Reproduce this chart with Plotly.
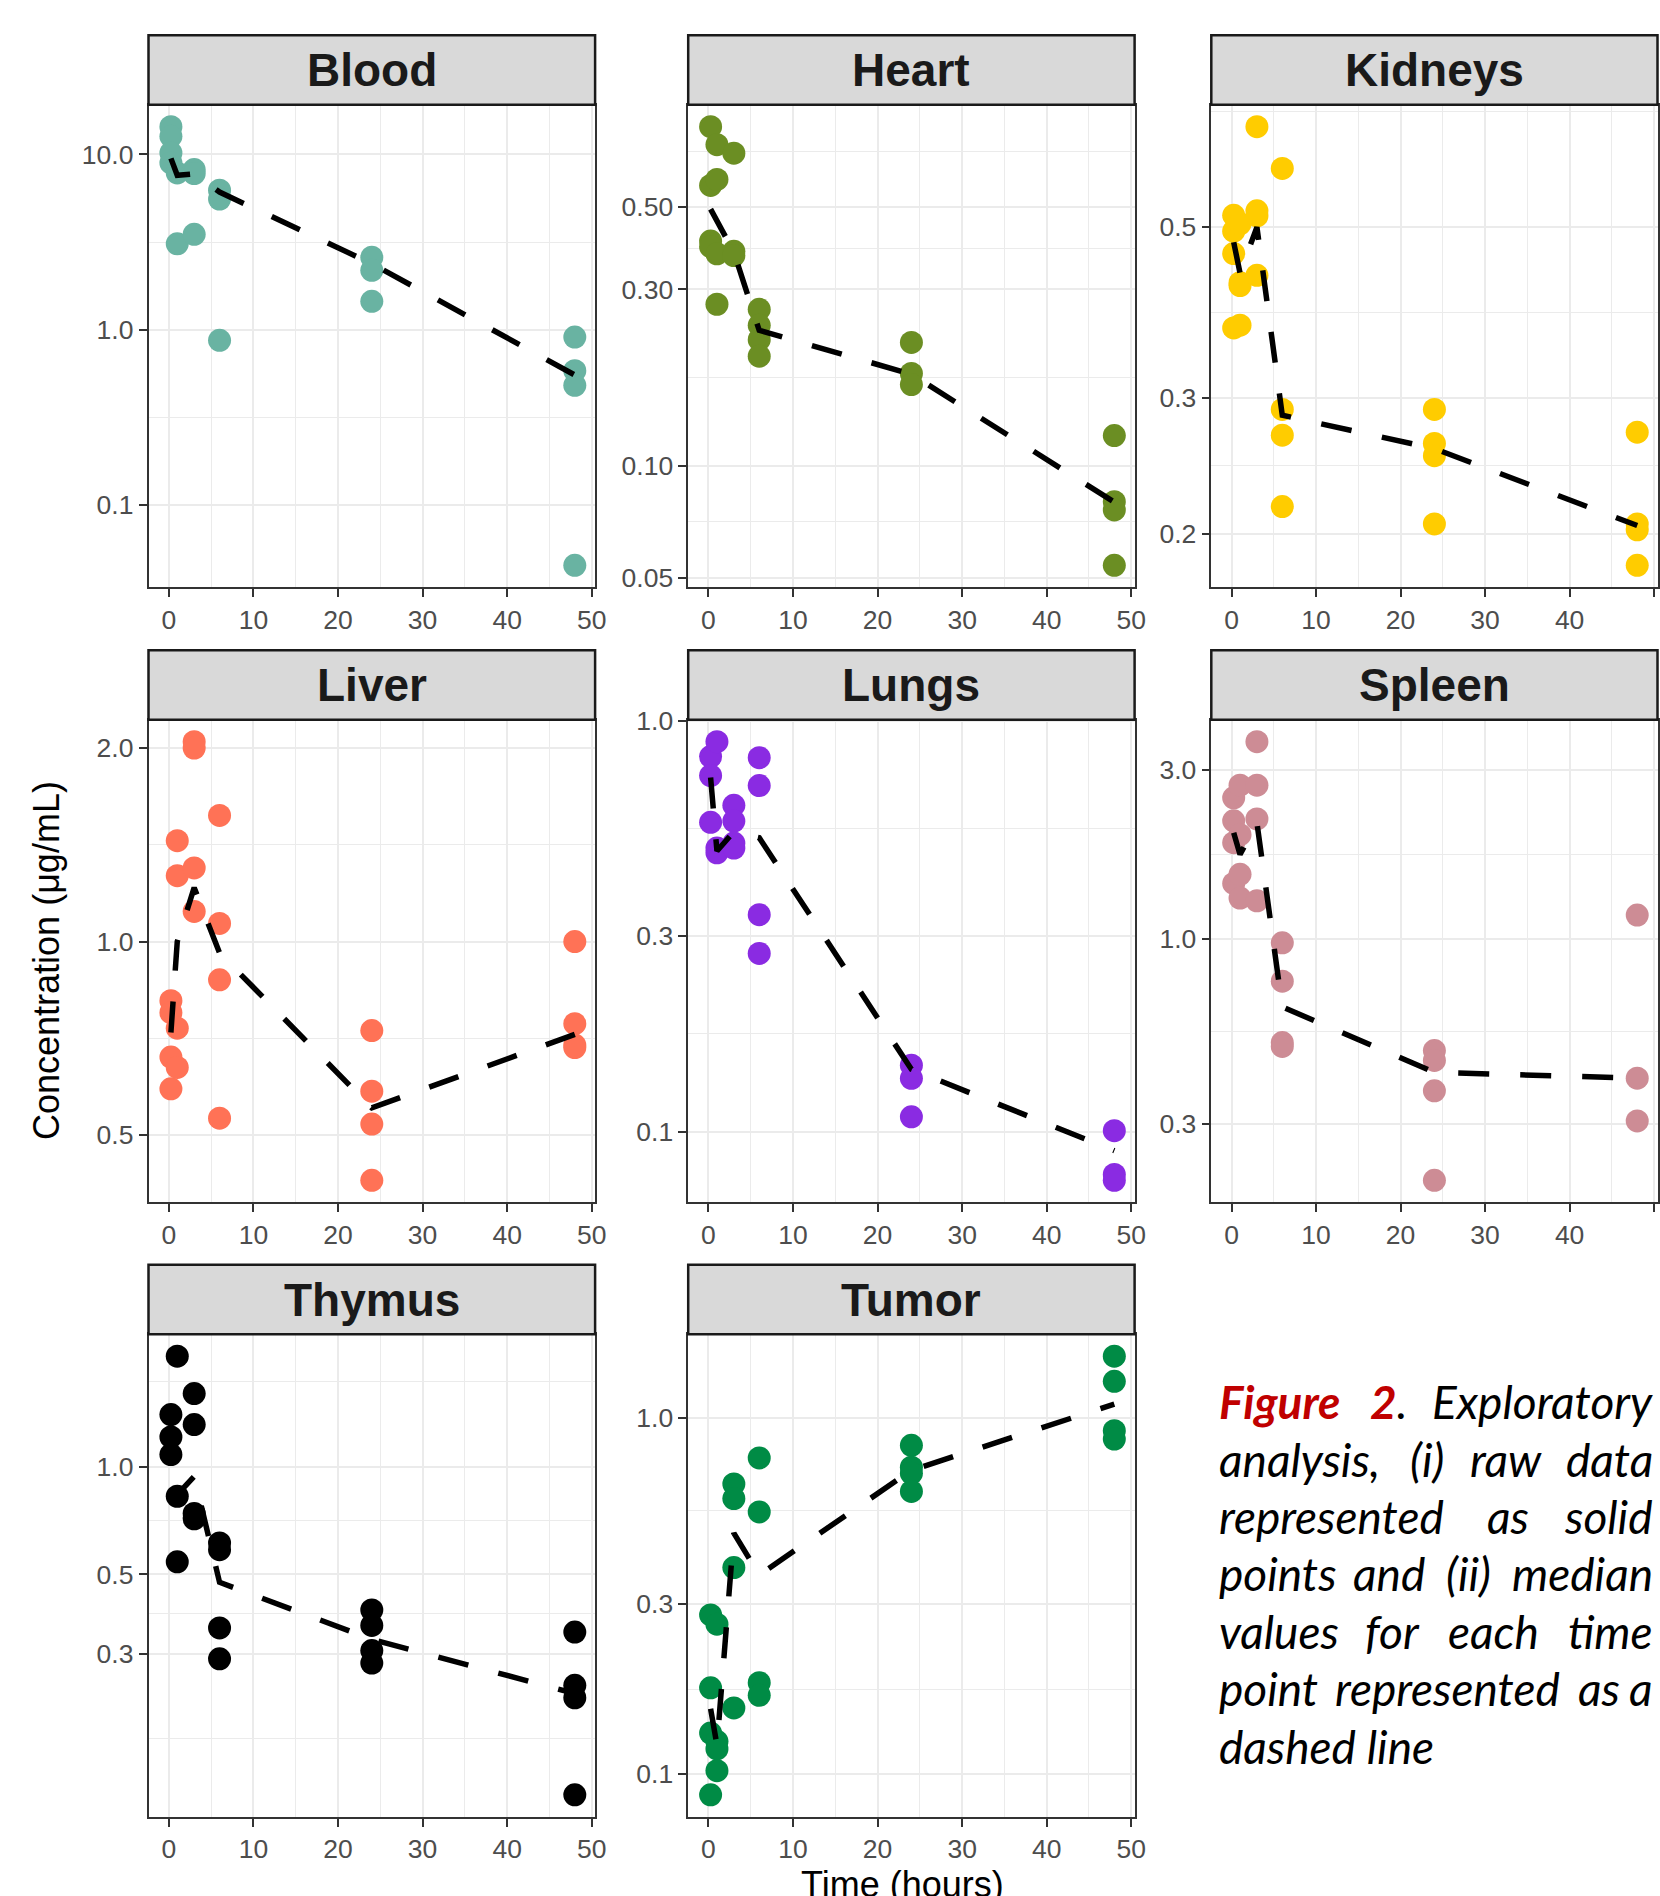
import numpy as np
import plotly.graph_objects as go

W, H = 1660, 1896

times = [0.25, 1, 3, 6, 24, 48]
x_ticks = [0, 10, 20, 30, 40, 50]
x_minor = [5, 15, 25, 35, 45]

organs = ["Blood", "Heart", "Kidneys", "Liver", "Lungs", "Spleen", "Thymus", "Tumor"]
colors = ["#69B3A2", "#6B8E23", "#FFCC00", "#FF7256", "#8A2BE2", "#CD8C95", "#000000", "#008B45"]

# concentrations (ug/mL) per time point
blood_conc = [[14.4, 12.7, 10.2, 8.94], [7.84, 3.09], [8.2, 7.78, 3.5],
              [6.25, 5.56, 0.868], [2.59, 2.18, 1.45], [0.906, 0.582, 0.48, 0.045]]
heart_conc = [[0.824, 0.572, 0.405, 0.391], [0.737, 0.594, 0.374, 0.2735], [0.699, 0.38, 0.37],
              [0.265, 0.24, 0.2195, 0.198], [0.2157, 0.178, 0.166], [0.121, 0.0802, 0.0762, 0.054]]
kidneys_conc = [[0.518, 0.494, 0.462, 0.370], [0.505, 0.4236, 0.42, 0.373], [0.675, 0.525, 0.517, 0.433],
                [0.596, 0.29, 0.2685, 0.217], [0.29, 0.262, 0.2526, 0.206], [0.271, 0.206, 0.2024, 0.182]]
liver_conc = [[0.809, 0.775, 0.661, 0.590], [1.435, 1.266, 0.733, 0.637], [2.046, 2.0, 1.302, 1.114],
              [1.571, 1.067, 0.872, 0.531], [0.727, 0.585, 0.52, 0.425], [1.0, 0.745, 0.69, 0.684]]
lungs_conc = [[0.82, 0.737, 0.567], [0.891, 0.491, 0.478], [0.624, 0.571, 0.505, 0.491],
              [0.815, 0.697, 0.338, 0.272], [0.1453, 0.135, 0.1088], [0.1007, 0.0788, 0.0762]]
spleen_conc = [[2.505, 2.157, 1.871, 1.435], [2.72, 1.97, 1.522, 1.304], [3.61, 2.72, 2.184, 1.281],
               [0.9745, 0.759, 0.509, 0.496], [0.483, 0.453, 0.3715, 0.2074], [1.167, 0.4035, 0.3054]]
thymus_conc = [[1.40, 1.212, 1.082], [2.039, 0.827, 0.542], [1.603, 1.313, 0.74, 0.715],
               [0.612, 0.586, 0.354, 0.29], [0.3976, 0.3598, 0.306, 0.2823], [0.3446, 0.2446, 0.2257, 0.1207]]
tumor_conc = [[0.2796, 0.1746, 0.1303, 0.0874], [0.2634, 0.1235, 0.1176, 0.1022], [0.652, 0.593, 0.3796, 0.1533],
              [0.7713, 0.544, 0.1804, 0.1663], [0.8364, 0.7267, 0.698, 0.621], [1.488, 1.265, 0.9196, 0.871]]

# median per time point (dashed line)
blood_median = [9.5, 7.6, 7.75, 6.1, 2.38, 0.55]
heart_median = [0.494, 0.4575, 0.378, 0.2326, 0.177, 0.080]
kidneys_median = [0.478, 0.436, 0.50, 0.285, 0.258, 0.205]
liver_median = [0.722, 1.0, 1.213, 0.96, 0.551, 0.717]
lungs_median = [0.729, 0.483, 0.538, 0.52, 0.142, 0.090]
spleen_median = [1.996, 1.732, 2.13, 0.642, 0.419, 0.4035]
thymus_median = [1.30, 0.836, 0.94, 0.475, 0.329, 0.232]
tumor_median = [0.1525, 0.1206, 0.4745, 0.362, 0.712, 1.092]

# y axis breaks
blood_ticks = [0.1, 1.0, 10.0]; blood_labels = ["0.1", "1.0", "10.0"]; blood_ext = [0.01, 0.1, 1, 10, 100]
heart_ticks = [0.05, 0.1, 0.3, 0.5]; heart_labels = ["0.05", "0.10", "0.30", "0.50"]; heart_ext = [0.03, 0.05, 0.1, 0.3, 0.5, 1]
kidneys_ticks = [0.2, 0.3, 0.5]; kidneys_labels = ["0.2", "0.3", "0.5"]; kidneys_ext = [0.1, 0.2, 0.3, 0.5, 1]
liver_ticks = [0.5, 1.0, 2.0]; liver_labels = ["0.5", "1.0", "2.0"]; liver_ext = [0.3, 0.5, 1, 2, 3]
lungs_ticks = [0.1, 0.3, 1.0]; lungs_labels = ["0.1", "0.3", "1.0"]; lungs_ext = [0.03, 0.1, 0.3, 1, 3]
spleen_ticks = [0.3, 1.0, 3.0]; spleen_labels = ["0.3", "1.0", "3.0"]; spleen_ext = [0.1, 0.3, 1, 3, 10]
thymus_ticks = [0.3, 0.5, 1.0]; thymus_labels = ["0.3", "0.5", "1.0"]; thymus_ext = [0.1, 0.3, 0.5, 1, 3]
tumor_ticks = [0.1, 0.3, 1.0]; tumor_labels = ["0.1", "0.3", "1.0"]; tumor_ext = [0.03, 0.1, 0.3, 1, 3]

panels = [
    (blood_conc, blood_median, blood_ticks, blood_labels, blood_ext),
    (heart_conc, heart_median, heart_ticks, heart_labels, heart_ext),
    (kidneys_conc, kidneys_median, kidneys_ticks, kidneys_labels, kidneys_ext),
    (liver_conc, liver_median, liver_ticks, liver_labels, liver_ext),
    (lungs_conc, lungs_median, lungs_ticks, lungs_labels, lungs_ext),
    (spleen_conc, spleen_median, spleen_ticks, spleen_labels, spleen_ext),
    (thymus_conc, thymus_median, thymus_ticks, thymus_labels, thymus_ext),
    (tumor_conc, tumor_median, tumor_ticks, tumor_labels, tumor_ext),
]

# layout geometry (pixels)
colL = [148.5, 688.2, 1211.3]
colR = [595.1, 1134.6, 1657.5]
stripTop = [35.3, 650.3, 1264.8]
stripH = 69.5
plotH = 482.5

FONT = "Liberation Sans"
tickfont = dict(family=FONT, size=26.5, color="#4D4D4D")
GRID = "#EBEBEB"
BORDER = "#333333"

fig = go.Figure()
layout = dict(width=W, height=H, margin=dict(l=0, r=0, t=0, b=0, pad=0), autosize=False,
              paper_bgcolor="white", plot_bgcolor="white", showlegend=False)
shapes = []
annotations = []

for i, (name, col, (conc, med, ticks, labels, ext)) in enumerate(zip(organs, colors, panels)):
    r, c = divmod(i, 3)
    sfx = "" if i == 0 else str(i + 1)
    top = stripTop[r] + stripH
    bot = top + plotH
    xs, ys = [], []
    for t, vals in zip(times, conc):
        xs += [t] * len(vals)
        ys += vals
    logs = np.log10(ys + med)
    lo, hi = logs.min(), logs.max()
    pad = 0.05 * (hi - lo)
    yrange = [lo - pad, hi + pad]
    minor = [float(np.sqrt(a * b)) for a, b in zip(ext[:-1], ext[1:])]

    fig.add_trace(go.Scatter(x=xs, y=ys, mode="markers", xaxis="x" + sfx, yaxis="y" + sfx,
                             marker=dict(size=23, color=col, line=dict(width=0)), hoverinfo="skip"))
    fig.add_trace(go.Scatter(x=times, y=med, mode="lines", xaxis="x" + sfx, yaxis="y" + sfx,
                             line=dict(color="black", width=5.5, dash="31px,31px"), hoverinfo="skip"))

    layout["xaxis" + sfx] = dict(
        domain=[colL[c] / W, colR[c] / W], anchor="y" + sfx, range=[-2.4, 50.4], automargin=False,
        tickmode="array", tickvals=x_ticks, ticktext=[str(v) for v in x_ticks],
        ticks="outside", ticklen=8, tickwidth=1.5, tickcolor=BORDER, tickfont=tickfont,
        showline=True, mirror=True, linecolor=BORDER, linewidth=1.5,
        showgrid=True, gridcolor=GRID, gridwidth=2, zeroline=False,
        minor=dict(tickmode="array", tickvals=x_minor, showgrid=True, gridcolor=GRID, gridwidth=1, ticks=""),
    )
    layout["yaxis" + sfx] = dict(
        domain=[1 - bot / H, 1 - top / H], anchor="x" + sfx, type="log", range=yrange, automargin=False,
        tickmode="array", tickvals=ticks, ticktext=labels,
        ticks="outside", ticklen=8, tickwidth=1.5, tickcolor=BORDER, tickfont=tickfont,
        showline=True, mirror=True, linecolor=BORDER, linewidth=1.5,
        showgrid=True, gridcolor=GRID, gridwidth=2, zeroline=False,
        minor=dict(tickmode="array", tickvals=minor, showgrid=True, gridcolor=GRID, gridwidth=1, ticks=""),
    )
    # facet strip
    shapes.append(dict(type="rect", xref="paper", yref="paper",
                       x0=colL[c] / W, x1=colR[c] / W, y0=1 - top / H, y1=1 - stripTop[r] / H,
                       fillcolor="#D9D9D9", line=dict(color="#1A1A1A", width=2.5), layer="above"))
    annotations.append(dict(text="<b>%s</b>" % name, xref="paper", yref="paper",
                            x=(colL[c] + colR[c]) / 2 / W, y=1 - (stripTop[r] + stripH / 2) / H,
                            xanchor="center", yanchor="middle", showarrow=False,
                            font=dict(family=FONT, size=46, color="#1A1A1A")))

# axis titles
annotations.append(dict(text="Concentration (μg/mL)", xref="paper", yref="paper",
                        x=46.5 / W, y=1 - 960.5 / H, textangle=-90, xanchor="center", yanchor="middle",
                        showarrow=False, font=dict(family=FONT, size=36, color="black")))
annotations.append(dict(text="Time (hours)", xref="paper", yref="paper",
                        x=902.7 / W, y=1 - 1884 / H, xanchor="center", yanchor="middle",
                        showarrow=False, font=dict(family=FONT, size=36, color="black")))

# caption (justified lines: words placed individually)
RED = "#C00000"
cap_lines = [
    [("<b>Figure</b>", 1217, "left", RED), ("<b>2</b><span style='color:black'>.</span>", 1368, "left", RED),
     ("Exploratory", 1655, "right", "black")],
    [("analysis,", 1217, "left", "black"), ("(i)", 1427, "center", "black"), ("raw", 1505.5, "center", "black"),
     ("data", 1655, "right", "black")],
    [("represented", 1217, "left", "black"), ("as", 1507.5, "center", "black"), ("solid", 1655, "right", "black")],
    [("points", 1217, "left", "black"), ("and", 1388.5, "center", "black"), ("(ii)", 1468, "center", "black"),
     ("median", 1655, "right", "black")],
    [("values", 1217, "left", "black"), ("for", 1392, "center", "black"), ("each", 1493, "center", "black"),
     ("time", 1655, "right", "black")],
    [("point", 1217, "left", "black"), ("represented", 1447.5, "center", "black"), ("as", 1599, "center", "black"),
     ("a", 1655, "right", "black")],
    [("dashed line", 1217, "left", "black")],
]
for k, words in enumerate(cap_lines):
    ymid = 1416.7 + 57.4 * k - 15
    for txt, xpos, anc, colr in words:
        annotations.append(dict(text="<i>%s</i>" % txt, xref="paper", yref="paper",
                                x=xpos / W, y=1 - ymid / H, xanchor=anc, yanchor="middle",
                                showarrow=False, font=dict(family="Lato", size=46, color=colr)))

layout["shapes"] = shapes
layout["annotations"] = annotations
fig.update_layout(**layout)

post = "document.documentElement.style.margin='0px';document.body.style.margin='0px';"
fig.write_html("out.html", config={"displayModeBar": False}, post_script=post)
